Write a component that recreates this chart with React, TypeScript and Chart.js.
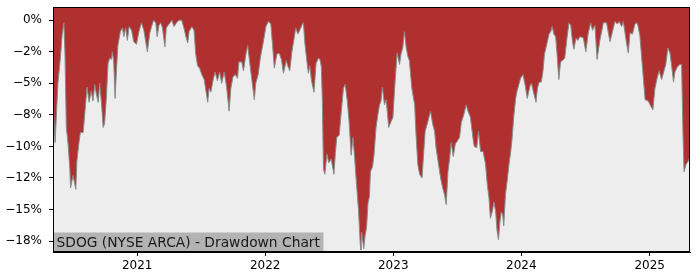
import React, { useEffect, useRef } from "react";
import { Chart, registerables } from "chart.js";

Chart.register(...registerables);

const START_DATE = "2020-05-06";
const DAY_MS = 86400000;

// days after START_DATE
const dayOffsets = [
  0, 6, 14, 21, 26, 31, 34, 38, 43, 48, 50, 57, 65, 68, 74, 78, 86, 90, 97, 103,
  109, 114, 119, 124, 129, 133, 138, 143, 147, 152, 157, 162, 167, 169, 173, 177, 181, 185, 192, 198,
  202, 207, 212, 217, 224, 230, 238, 245, 252, 259, 269, 276, 281, 287, 293, 297, 302, 307, 312, 319,
  323, 331, 339, 345, 352, 359, 367, 374, 378, 384, 388, 396, 402, 407, 412, 418, 424, 431, 436, 441,
  445, 450, 456, 462, 469, 475, 481, 488, 495, 502, 507, 513, 519, 526, 530, 538, 543, 550, 555, 561,
  569, 574, 578, 585, 591, 599, 607, 614, 621, 626, 631, 638, 645, 651, 657, 665, 669, 675, 681, 687,
  692, 698, 705, 711, 714, 718, 724, 728, 732, 737, 744, 750, 757, 761, 765, 768, 771, 775, 781, 786,
  793, 801, 805, 809, 816, 821, 828, 833, 839, 844, 850, 855, 860, 864, 871, 876, 878, 880, 886, 890,
  894, 898, 902, 905, 911, 915, 921, 926, 931, 935, 939, 945, 950, 957, 964, 969, 974, 981, 988, 992,
  997, 1002, 1007, 1012, 1016, 1023, 1031, 1035, 1040, 1045, 1052, 1057, 1061, 1069, 1076, 1083, 1088, 1092, 1099, 1105,
  1111, 1116, 1121, 1126, 1131, 1135, 1141, 1147, 1152, 1159, 1164, 1171, 1178, 1183, 1190, 1197, 1201, 1208, 1213, 1219,
  1226, 1233, 1238, 1243, 1247, 1252, 1257, 1262, 1266, 1270, 1274, 1278, 1282, 1285, 1290, 1295, 1300, 1305, 1309, 1314,
  1319, 1323, 1328, 1333, 1340, 1347, 1352, 1360, 1364, 1369, 1377, 1381, 1386, 1392, 1397, 1401, 1407, 1414, 1419, 1423,
  1428, 1433, 1437, 1442, 1447, 1452, 1459, 1464, 1471, 1476, 1481, 1485, 1491, 1496, 1502, 1512, 1519, 1526, 1533, 1538,
  1545, 1551, 1559, 1569, 1578, 1588, 1595, 1602, 1609, 1614, 1621, 1626, 1635, 1640, 1645, 1652, 1659, 1666, 1673, 1681,
  1688, 1697, 1704, 1710, 1716, 1723, 1728, 1735, 1742, 1747, 1753, 1759, 1764, 1769, 1773, 1780, 1787, 1792, 1796, 1799,
  1805, 1810, 1816,
];

// drawdown in percent
const drawdownPct = [
  -6.5, -9.7, -5.0, -3.0, -1.2, -0.2, -2.5, -8.5, -9.8, -11.8, -13.3, -12.3, -13.4, -11.2, -9.7, -8.9, -8.9, -7.6, -5.3, -6.5,
  -5.6, -6.4, -5.1, -5.9, -6.5, -5.0, -6.5, -8.5, -8.2, -6.2, -3.4, -3.0, -3.1, -2.5, -3.2, -6.2, -3.9, -2.0, -0.9, -0.6,
  -1.3, -0.6, -1.6, -0.5, -0.8, -1.7, -1.9, -0.9, -0.2, -0.8, -2.5, -1.0, -0.5, 0.0, -0.2, -1.3, -0.4, -0.2, -0.6, -2.1,
  -0.6, -0.3, 0.0, -0.5, -0.2, 0.0, 0.0, -0.7, -1.2, -1.8, -0.9, -0.5, -0.8, -2.7, -3.6, -3.8, -4.3, -4.7, -5.6, -6.5,
  -5.4, -5.7, -4.8, -4.1, -4.8, -4.1, -5.0, -4.1, -5.3, -7.2, -5.4, -4.5, -4.3, -4.6, -3.3, -3.3, -4.0, -2.7, -2.0, -3.4,
  -5.2, -6.3, -5.0, -4.3, -3.0, -1.8, -0.5, -0.1, -0.3, -2.0, -3.8, -2.7, -2.6, -3.1, -4.2, -3.2, -3.6, -4.0, -2.5, -1.5,
  -0.6, -1.1, -0.7, -0.3, -0.2, -1.8, -3.3, -4.2, -3.6, -4.8, -5.7, -3.4, -3.0, -3.1, -3.7, -6.5, -11.8, -12.2, -10.6, -11.3,
  -11.0, -12.2, -10.5, -9.3, -9.1, -7.5, -5.4, -5.1, -6.4, -8.0, -10.7, -9.3, -10.9, -12.5, -15.1, -17.8, -18.2, -16.8, -18.1, -17.0,
  -16.4, -14.5, -14.0, -12.0, -11.6, -10.7, -8.5, -7.5, -6.7, -6.4, -5.3, -6.7, -6.3, -8.5, -8.0, -7.7, -5.4, -2.6, -3.5, -2.7,
  -2.2, -0.9, -2.2, -2.9, -3.2, -5.4, -6.7, -9.1, -11.4, -12.2, -12.5, -10.4, -8.8, -8.0, -7.2, -8.3, -8.8, -10.1, -11.4, -12.5,
  -13.3, -13.8, -14.6, -12.0, -10.9, -9.7, -10.8, -9.8, -9.6, -9.3, -8.1, -7.5, -6.7, -7.2, -7.7, -9.3, -10.0, -10.1, -8.8, -10.4,
  -10.4, -11.4, -13.0, -14.1, -15.7, -15.2, -14.4, -15.2, -16.7, -17.4, -16.0, -15.2, -15.4, -16.3, -13.8, -12.7, -11.4, -10.4, -9.3, -7.5,
  -6.2, -5.6, -5.1, -4.6, -4.3, -5.3, -6.2, -5.2, -5.0, -5.6, -6.5, -5.4, -4.9, -4.9, -4.0, -2.7, -2.0, -1.1, -0.9, -0.5,
  -1.1, -1.3, -2.7, -4.7, -3.3, -3.2, -3.0, -1.7, -0.2, -0.4, -1.7, -2.3, -1.4, -1.6, -1.3, -1.4, -2.5, -1.0, -0.2, -0.8,
  -0.4, -3.1, -1.6, -0.2, -0.2, -1.7, -0.9, -0.1, -0.3, -0.1, -0.5, -0.1, -1.8, -2.6, -1.0, -1.1, -0.3, -0.2, -1.2, -3.9,
  -6.3, -6.4, -6.8, -7.1, -5.4, -4.5, -4.0, -4.7, -4.0, -3.5, -2.2, -2.6, -3.7, -4.9, -4.1, -3.7, -3.5, -3.5, -9.0, -12.0,
  -11.4, -11.2, -10.8,
];

const yearTicks = [2021, 2022, 2023, 2024, 2025];
const yTickValues = [0, -2.5, -5, -7.5, -10, -12.5, -15, -17.5];
const yTickLabels = ["0%", "\u22122%", "\u22125%", "\u22128%", "\u221210%", "\u221212%", "\u221215%", "\u221218%"];
const TITLE = "SDOG (NYSE ARCA) - Drawdown Chart";

const FONT_FAMILY = "'DejaVu Sans', sans-serif";

export default function App() {
  const canvasRef = useRef<HTMLCanvasElement | null>(null);

  useEffect(() => {
    document.body.style.margin = "0";
    const canvas = canvasRef.current;
    if (!canvas) return;
    const start = Date.parse(START_DATE + "T00:00:00Z");
    const points = dayOffsets.map((d, i) => ({ x: start + d * DAY_MS, y: drawdownPct[i] }));

    const bgPlugin = {
      id: "plotBg",
      beforeDatasetsDraw(chart: any) {
        const { ctx, chartArea } = chart;
        ctx.save();
        ctx.fillStyle = "#ededed";
        ctx.fillRect(chartArea.left, chartArea.top, chartArea.right - chartArea.left, chartArea.bottom - chartArea.top);
        ctx.restore();
      },
      afterDatasetsDraw(chart: any) {
        const { ctx, chartArea } = chart;
        ctx.save();
        ctx.font = "13.8px " + FONT_FAMILY;
        const w = ctx.measureText(TITLE).width;
        const boxH = 19.5;
        ctx.fillStyle = "#b3b3b3";
        ctx.fillRect(chartArea.left, chartArea.bottom - boxH, w + 7, boxH);
        ctx.fillStyle = "#1a1a1a";
        ctx.textBaseline = "alphabetic";
        ctx.textAlign = "left";
        ctx.fillText(TITLE, chartArea.left + 3.5, chartArea.bottom - 5.3);
        ctx.strokeStyle = "#000";
        ctx.lineWidth = 1;
        ctx.strokeRect(
          Math.round(chartArea.left) + 0.5,
          Math.round(chartArea.top) + 0.5,
          Math.round(chartArea.right - chartArea.left) - 1,
          Math.round(chartArea.bottom - chartArea.top) - 1
        );
        ctx.restore();
      },
    };

    const chart = new Chart(canvas, {
      type: "line",
      data: {
        datasets: [
          {
            data: points,
            fill: "end",
            backgroundColor: "#b03030",
            borderColor: "#8a8a8a",
            borderWidth: 1,
            pointRadius: 0,
            tension: 0,
          },
        ],
      },
      options: {
        animation: false,
        responsive: false,
        devicePixelRatio: 1,
        layout: { padding: { left: 0, top: 7, right: 10, bottom: 0 } },
        plugins: { legend: { display: false }, tooltip: { enabled: false } },
        scales: {
          x: {
            type: "linear",
            min: start,
            max: start + 1816 * DAY_MS,
            afterBuildTicks: (scale: any) => {
              scale.ticks = yearTicks.map((y) => ({ value: Date.UTC(y, 0, 1) }));
            },
            afterFit: (scale: any) => {
              scale.height = 28;
              scale.paddingLeft = 0;
              scale.paddingRight = 0;
            },
            ticks: {
              autoSkip: false,
              maxRotation: 0,
              color: "#000",
              padding: 3,
              font: { family: FONT_FAMILY, size: 12 },
              callback: (v: any) => String(new Date(Number(v)).getUTCFullYear()),
            },
            grid: { drawOnChartArea: false, drawTicks: true, tickLength: 4, tickColor: "#000" },
            border: { display: true, color: "#000" },
          },
          y: {
            type: "linear",
            min: -18.37,
            max: 1.05,
            afterBuildTicks: (scale: any) => {
              scale.ticks = [...yTickValues].reverse().map((v) => ({ value: v }));
            },
            afterFit: (scale: any) => {
              scale.width = 53;
              scale.paddingTop = 0;
              scale.paddingBottom = 0;
            },
            ticks: {
              autoSkip: false,
              color: "#000",
              padding: 7,
              font: { family: FONT_FAMILY, size: 12 },
              callback: (v: any) => {
                const idx = yTickValues.findIndex((t) => Math.abs(t - Number(v)) < 1e-6);
                return idx >= 0 ? yTickLabels[idx] : "";
              },
            },
            grid: { drawOnChartArea: false, drawTicks: true, tickLength: 4, tickColor: "#000" },
            border: { display: true, color: "#000" },
          },
        },
      },
      plugins: [bgPlugin],
    });

    return () => {
      chart.destroy();
    };
  }, []);

  return (
    <div style={{ position: "absolute", left: 0, top: 0, width: 700, height: 280, background: "#fff" }}>
      <canvas ref={canvasRef} width={700} height={280} style={{ display: "block", width: 700, height: 280 }} />
    </div>
  );
}
